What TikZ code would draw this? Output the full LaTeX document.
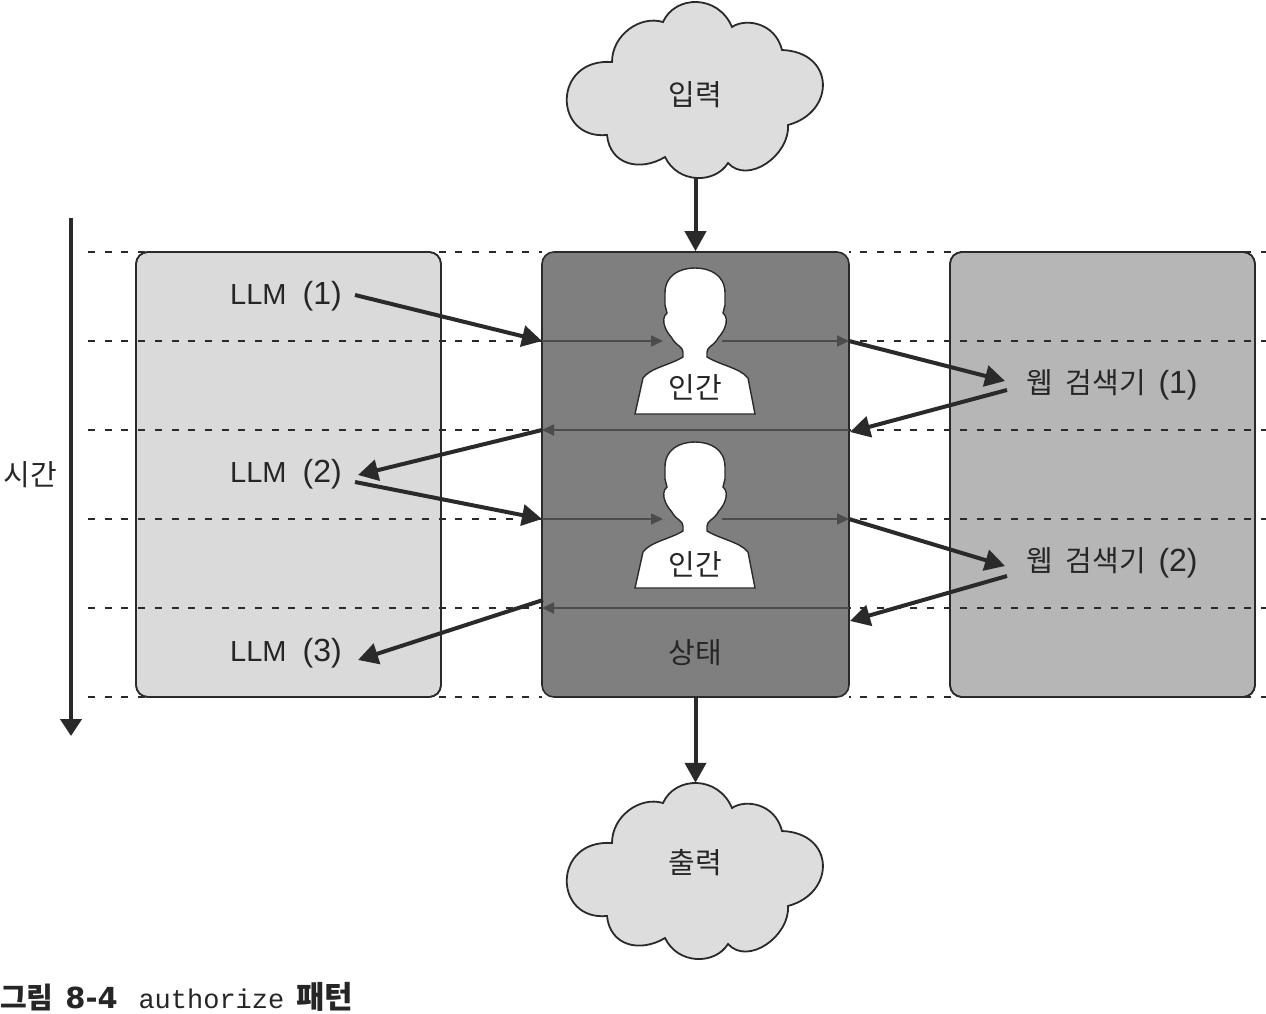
\documentclass[tikz,border=0pt]{standalone}
\usepackage{fontspec}
\setmainfont{Liberation Sans}
\setmonofont{Liberation Mono}
\newfontfamily\krfont{Noto Sans CJK KR}
\newfontfamily\krwide[WordSpace=1.4]{Noto Sans CJK KR}
\newfontfamily\djvfont{DejaVu Sans}
\newfontfamily\latfont[WordSpace=2]{Liberation Sans}
\usetikzlibrary{arrows.meta}
\definecolor{inkc}{HTML}{2A2A2A}
\definecolor{boxL}{HTML}{DADADA}
\definecolor{boxC}{HTML}{7F7F7F}
\definecolor{boxR}{HTML}{B6B6B6}
\definecolor{cloudc}{HTML}{DDDDDD}
\newcommand{\parn}[1]{{\rmfamily\fontsize{32}{34}\selectfont(#1)}}
\newcommand{\cloudshape}{
  (612,62) .. controls (612,35) and (640,15) .. (663,22)
  .. controls (675,-5) and (718,-6) .. (732,27)
  .. controls (745,18) and (775,22) .. (782,50)
  .. controls (835,52) and (836,112) .. (788,125)
  .. controls (790,155) and (748,185) .. (728,163)
  .. controls (715,184) and (678,184) .. (665,157)
  .. controls (640,172) and (610,165) .. (607,135)
  .. controls (553,140) and (552,58) .. (612,62) -- cycle}
\newcommand{\personshape}{
  (695,268) .. controls (680,268) and (665,275) .. (665,293)
  -- (665,305) -- (667,313) .. controls (663,316) and (663,322) .. (665,327)
  .. controls (668,335) and (672,337) .. (673,340)
  .. controls (676,345) and (683,347) .. (683,352) -- (683,357)
  .. controls (670,365) and (650,368) .. (643,378)
  -- (635,414) -- (755,414) -- (748,378)
  .. controls (740,368) and (720,365) .. (707,357) -- (707,352)
  .. controls (707,347) and (714,345) .. (717,340)
  .. controls (718,337) and (722,335) .. (725,327)
  .. controls (727,322) and (727,316) .. (723,313)
  -- (725,305) -- (725,293)
  .. controls (725,275) and (710,268) .. (695,268) -- cycle}
\tikzset{
  x=1pt,y=-1pt,
  panel/.style={draw=inkc,line width=1.6pt,rounded corners=12pt,inner sep=0pt,minimum width=#1,minimum height=445pt},
  lbl/.style={inner sep=0pt,text=black!85,font=\krfont\fontsize{29}{34}\selectfont},
  weblbl/.style={inner sep=0pt,text=black!85,font=\krwide\fontsize{29}{34}\selectfont},
  lat/.style={inner sep=0pt,text=black!85,font=\latfont\fontsize{29}{34}\selectfont},
  dashline/.style={draw=inkc,line width=1.8pt,dash pattern=on 7pt off 9.7pt},
  flow/.style={draw=inkc,line width=4pt,-{Triangle[length=20pt,width=21pt]}},
  thin flow/.style={draw=black!70,line width=1.8pt,-{Triangle[length=12pt,width=11pt]}},
  cloudpath/.style={draw=inkc,line width=1.8pt,fill=cloudc},
  person/.style={draw=inkc,line width=1.4pt,fill=white},
}
\begin{document}
\begin{tikzpicture}
\useasboundingbox (0,0) rectangle (1266,1014);
\fill[white] (0,0) rectangle (1266,1014);

% clouds
\draw[cloudpath] \cloudshape;
\begin{scope}[shift={(0,781)}]
  \draw[cloudpath] \cloudshape;
\end{scope}
\node[lbl,minimum width=60pt,minimum height=166pt] (inp) at (695.5,95) {입력};
\node[lbl,minimum width=60pt,minimum height=160pt] (outp) at (695.5,863) {출력};

% panels
\node[panel=305pt,fill=boxL] (llmbox) at (288.5,474.5) {};
\node[panel=307pt,fill=boxC] (state) at (695.5,474.5) {};
\node[panel=305pt,fill=boxR] (webbox) at (1102.5,474.5) {};

% dashed time lines
\foreach \yy in {252,341,430,519,608,697}{
  \draw[dashline] (88,\yy) -- (542,\yy);
  \draw[dashline] (1268,\yy) -- (849,\yy);
}
% box edges over the top and bottom dash rows
\node[panel=305pt] at (288.5,474.5) {};
\node[panel=305pt] at (1102.5,474.5) {};

% persons
\draw[person] \personshape;
\begin{scope}[shift={(0,174)}]
  \draw[person] \personshape;
\end{scope}

% coordinates
\coordinate (a1) at (542,341);
\coordinate (a2) at (663,341);
\coordinate (a3) at (722,341);
\coordinate (a4) at (849,341);
\coordinate (b1) at (849,430);
\coordinate (b2) at (542,430);
\coordinate (c1) at (542,519);
\coordinate (c2) at (663,519);
\coordinate (c3) at (722,519);
\coordinate (c4) at (849,519);
\coordinate (d1) at (849,608);
\coordinate (d2) at (542,608);
\coordinate (t0) at (71,218);
\coordinate (t1) at (71,736);
\coordinate (s1) at (543,600);
\coordinate (f1) at (355,295);
\coordinate (f2) at (355,482);
\coordinate (f3) at (1007,390);
\coordinate (f4) at (1007,576);
\coordinate (e1) at (358,475);
\coordinate (e2) at (358,660);
\coordinate (e3) at (1005,381);
\coordinate (e4) at (1005,566);
\coordinate (g1) at (850,432);
\coordinate (g2) at (850,621);

% thin arrows inside the state box
\draw[thin flow] (a1) -- (a2);
\draw[thin flow] (a3) -- (a4);
\draw[thin flow] (b1) -- (b2);
\draw[thin flow] (c1) -- (c2);
\draw[thin flow] (c3) -- (c4);
\draw[thin flow] (d1) -- (d2);

% labels
\node[lbl] (h1) at (695,387) {인간};
\node[lbl] (h2) at (695,564) {인간};
\node[lbl] (statelabel) at (695,653) {상태};
\node[lbl] (timelabel) at (30,475) {시간};
\node[lat] (llm1) at (286,296) {LLM \parn{1}};
\node[lat] (llm2) at (286,474) {LLM \parn{2}};
\node[lat] (llm3) at (286,653) {LLM \parn{3}};
\node[weblbl] (web1) at (1112,385) {웹 검색기 \parn{1}};
\node[weblbl] (web2) at (1112,563) {웹 검색기 \parn{2}};

% thick arrows
\draw[flow] (inp.south) -- (state.north);
\draw[flow] (state.south) -- (outp.north);
\draw[flow] (f1) -- (a1);
\draw[flow] (a4) -- (e3);
\draw[flow] (f3) -- (g1);
\draw[flow] (b2) -- (e1);
\draw[flow] (f2) -- (c1);
\draw[flow] (c4) -- (e4);
\draw[flow] (f4) -- (g2);
\draw[flow] (s1) -- (e2);
\draw[draw=inkc,line width=4pt,-{Triangle[length=17pt,width=21pt]}] (t0) -- (t1);

% caption
\node[anchor=base west,inner sep=0pt,text=black!85] (caption) at (0,1008)
  {{\krfont\bfseries\fontsize{29}{34}\selectfont 그림} \hspace{9pt}{\djvfont\bfseries\fontsize{29}{34}\selectfont 8-4} \hspace{18pt}{\ttfamily\fontsize{27}{34}\selectfont authorize} \hspace{9pt}{\krfont\bfseries\fontsize{31}{34}\selectfont 패턴}};
\end{tikzpicture}
\end{document}
